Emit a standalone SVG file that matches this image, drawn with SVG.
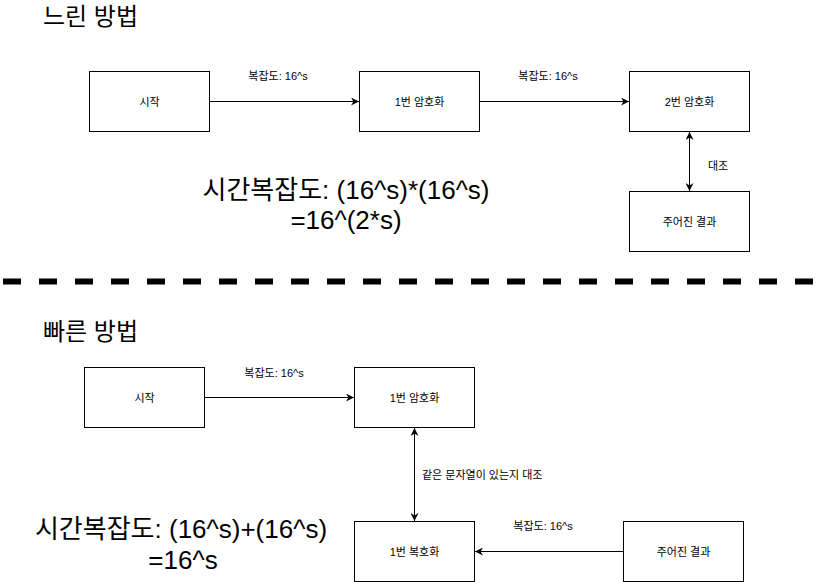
<svg xmlns="http://www.w3.org/2000/svg" width="827" height="582" viewBox="0 0 827 582">
<defs>
<marker id="ah" viewBox="0 0 10 10" refX="10" refY="5" markerWidth="8" markerHeight="8" markerUnits="userSpaceOnUse" orient="auto-start-reverse">
<path d="M0,0 L10,5 L0,10 L3,5 Z" fill="#000"/>
</marker>
<style>
.box{fill:#fff;stroke:#000;stroke-width:1}
.t{font-family:"Liberation Sans","Noto Sans CJK KR",sans-serif;fill:#000}
.n{font-size:11px;text-anchor:middle;dominant-baseline:central}
.l{font-size:11px}
.big{font-size:26px;text-anchor:middle}
.title{font-size:24px}
.c{stroke:#000;stroke-width:1;fill:none}
</style>
</defs>
<rect width="827" height="582" fill="#fff"/>

<text class="t title" x="43" y="25">느린 방법</text>
<text class="t title" x="43" y="340">빠른 방법</text>

<line x1="3" y1="281.5" x2="827" y2="281.5" stroke="#000" stroke-width="6" stroke-dasharray="18 18"/>

<text class="t big" x="346" y="199">시간복잡도: (16^s)*(16^s)</text>
<text class="t big" x="346" y="229">=16^(2*s)</text>
<text class="t big" x="181" y="538">시간복잡도: (16^s)+(16^s)</text>
<text class="t big" x="183" y="569">=16^s</text>

<g id="connectors">
<line class="c" x1="209.5" y1="101.5" x2="359" y2="101.5" marker-end="url(#ah)"/>
<line class="c" x1="479.5" y1="101.5" x2="629" y2="101.5" marker-end="url(#ah)"/>
<line class="c" x1="689.5" y1="132" x2="689.5" y2="191" marker-start="url(#ah)" marker-end="url(#ah)"/>
<line class="c" x1="204.5" y1="397.5" x2="354" y2="397.5" marker-end="url(#ah)"/>
<line class="c" x1="414.5" y1="428" x2="414.5" y2="521" marker-start="url(#ah)" marker-end="url(#ah)"/>
<line class="c" x1="623" y1="551.5" x2="475" y2="551.5" marker-end="url(#ah)"/>
<text class="t l" x="278" y="80" text-anchor="middle">복잡도: 16^s</text>
<text class="t l" x="548" y="80" text-anchor="middle">복잡도: 16^s</text>
<text class="t l" x="708" y="170">대조</text>
<text class="t l" x="274" y="377" text-anchor="middle">복잡도: 16^s</text>
<text class="t l" x="422" y="479">같은 문자열이 있는지 대조</text>
<text class="t l" x="543" y="530" text-anchor="middle">복잡도: 16^s</text>
</g>

<g id="slow-start"><rect class="box" x="89.5" y="71.5" width="120" height="60"/><text class="t n" x="149.5" y="101.5">시작</text></g>
<g id="slow-enc1"><rect class="box" x="359.5" y="71.5" width="120" height="60"/><text class="t n" x="419.5" y="101.5">1번 암호화</text></g>
<g id="slow-enc2"><rect class="box" x="629.5" y="71.5" width="120" height="60"/><text class="t n" x="689.5" y="101.5">2번 암호화</text></g>
<g id="slow-result"><rect class="box" x="629.5" y="191.5" width="120" height="60"/><text class="t n" x="689.5" y="221.5">주어진 결과</text></g>

<g id="fast-start"><rect class="box" x="84.5" y="367.5" width="120" height="60"/><text class="t n" x="144.5" y="397.5">시작</text></g>
<g id="fast-enc1"><rect class="box" x="354.5" y="367.5" width="120" height="60"/><text class="t n" x="414.5" y="397.5">1번 암호화</text></g>
<g id="fast-dec1"><rect class="box" x="354.5" y="521.5" width="120" height="60"/><text class="t n" x="414.5" y="551.5">1번 복호화</text></g>
<g id="fast-result"><rect class="box" x="623.5" y="521.5" width="120" height="60"/><text class="t n" x="683.5" y="551.5">주어진 결과</text></g>
</svg>
